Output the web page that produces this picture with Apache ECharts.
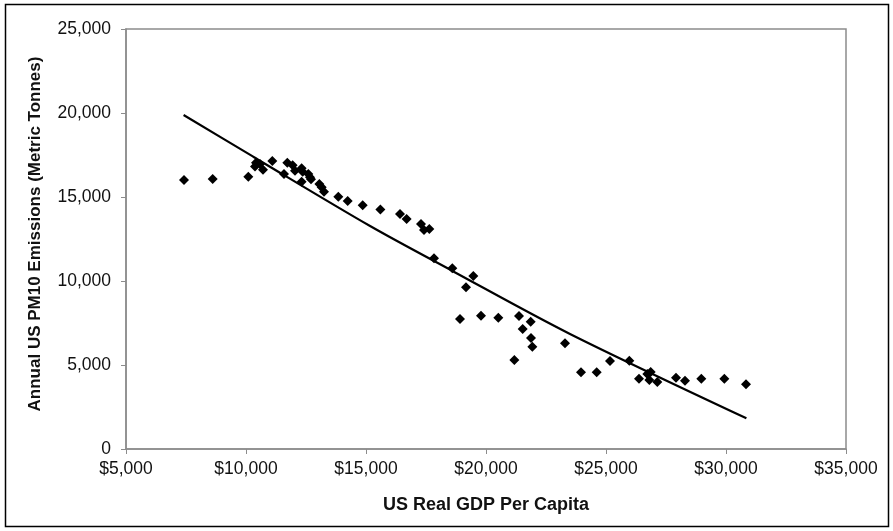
<!DOCTYPE html>
<html><head><meta charset="utf-8">
<script src="https://cdn.jsdelivr.net/npm/echarts@6/dist/echarts.min.js"></script>
<style>html,body{margin:0;padding:0;background:#fff}#c{width:893px;height:531px}</style>
</head><body><div id="c"></div>
<script>
const gdp = [7417,8611,10097,10417,10583,10375,10708,11097,11583,11722,11944,12042,12319,12361,12319,12597,12667,12708,13056,13153,13250,13847,14236,14861,15600,16417,16694,17292,17417,17639,17833,18597,19472,19167,18917,19792,20514,21375,21861,21528,21875,21931,21181,23292,23958,24611,25167,25972,26375,26722,26861,26806,27139,27917,28292,28972,29931,30833];
const pm10 = [16012,16071,16210,17040,16964,16815,16625,17143,16369,17042,16885,16567,16706,16508,15913,16369,16171,16052,15774,15577,15315,15018,14762,14506,14250,13988,13690,13393,13036,13095,11351,10756,10298,9625,7738,7935,7817,7917,7577,7143,6607,6089,5298,6292,4565,4565,5238,5258,4185,4464,4583,4107,3988,4244,4065,4185,4185,3851];
const trendGdp = [7400,10300,15170,18600,23500,30850];
const trendPm = [19880,17400,13270,10600,6850,1830];
const xTicks = [5000,10000,15000,20000,25000,30000,35000];
const yTicks = [0,5000,10000,15000,20000,25000];

const fmt = v => v.toString().replace(/\B(?=(\d{3})+(?!\d))/g, ',');
const chart = echarts.init(document.getElementById('c'), null, {renderer:'canvas'});
const font = '"Liberation Sans", Arial, sans-serif';
chart.setOption({
  animation:false,
  backgroundColor:'#fff',
  graphic:[{type:'rect', shape:{x:5.5,y:4.5,width:883,height:522}, style:{fill:'none',stroke:'#000',lineWidth:1.5}}],
  grid:{left:126,right:47,top:29,bottom:82,show:true,borderColor:'#8c8c8c',borderWidth:1.5},
  xAxis:{type:'value',min:xTicks[0],max:xTicks[xTicks.length-1],interval:5000,
    name:'US Real GDP Per Capita',nameLocation:'middle',nameGap:47,
    nameTextStyle:{fontFamily:font,fontWeight:'bold',fontSize:18,color:'#111'},
    axisLine:{lineStyle:{color:'#8c8c8c',width:1.5}},
    axisTick:{show:true,inside:false,length:5,lineStyle:{color:'#8c8c8c'}},
    axisLabel:{fontFamily:font,fontSize:17.5,color:'#111',margin:11,formatter:v=>'$'+fmt(v)},
    splitLine:{show:false}},
  yAxis:{type:'value',min:yTicks[0],max:yTicks[yTicks.length-1],interval:5000,
    name:'Annual US PM10 Emissions (Metric Tonnes)',nameLocation:'middle',nameGap:82,
    nameTextStyle:{fontFamily:font,fontWeight:'bold',fontSize:17,color:'#111',padding:[0,0,0,10]},
    axisLine:{show:true,lineStyle:{color:'#8c8c8c',width:1.5}},
    axisTick:{show:true,inside:false,length:5,lineStyle:{color:'#8c8c8c'}},
    axisLabel:{fontFamily:font,fontSize:17.5,color:'#111',margin:15,formatter:v=>fmt(v)},
    splitLine:{show:false}},
  series:[
    {type:'line',data:trendGdp.map((x,i)=>[x,trendPm[i]]),smooth:0.3,symbol:'none',
     lineStyle:{color:'#000',width:2.2},z:2},
    {type:'scatter',data:gdp.map((x,i)=>[x,pm10[i]]),symbol:'diamond',symbolSize:10,
     itemStyle:{color:'#000',opacity:1},z:3}
  ]
});
</script></body></html>
